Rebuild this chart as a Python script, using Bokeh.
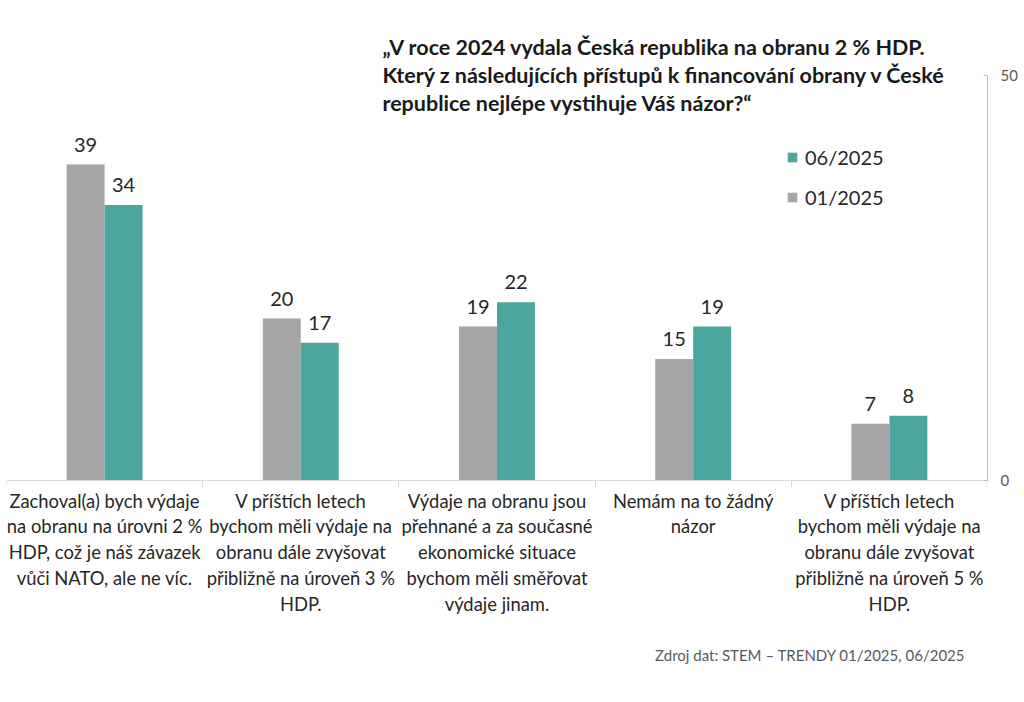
from bokeh.plotting import figure
from bokeh.models import (ColumnDataSource, FixedTicker, Legend, LegendItem, Label)
from bokeh.transform import dodge
from bokeh.core.properties import value
from bokeh.embed import file_html
from bokeh.resources import INLINE

# ---- data ----
categories = [
    "Zachoval(a) bych výdaje\nna obranu na úrovni 2 %\nHDP, což je náš závazek\nvůči NATO, ale ne víc.",
    "V příštích letech\nbychom měli výdaje na\nobranu dále zvyšovat\npřibližně na úroveň 3 %\nHDP.",
    "Výdaje na obranu jsou\npřehnané a za současné\nekonomické situace\nbychom měli směřovat\nvýdaje jinam.",
    "Nemám na to žádný\nnázor",
    "V příštích letech\nbychom měli výdaje na\nobranu dále zvyšovat\npřibližně na úroveň 5 %\nHDP.",
]
series_01_2025 = [39, 20, 19, 15, 7]
series_06_2025 = [34, 17, 22, 19, 8]
y_ticks = [0, 50]
title_text = ("„V roce 2024 vydala Česká republika na obranu 2 % HDP.\n"
              "Který z následujících přístupů k financování obrany v České\n"
              "republice nejlépe vystihuje Váš názor?“")
source_text = "Zdroj dat: STEM – TRENDY 01/2025, 06/2025"

GRAY = "#A5A5A5"
TEAL = "#4BA79E"
FONT = "Lato"

H = 696
PX_PER_UNIT = 8.1
centers = [i + 0.5 for i in range(len(categories))]
src = ColumnDataSource(dict(
    x=centers,
    v01=series_01_2025,
    v06=series_06_2025,
    t01=[str(v) for v in series_01_2025],
    t06=[str(v) for v in series_06_2025],
))

# frame spans full canvas height; value axis limited to 0..50 via bounds
y_lo = -(H - 480) / PX_PER_UNIT
y_hi = 50 + 75 / PX_PER_UNIT

p = figure(width=1020, height=H, output_backend="svg", toolbar_location=None,
           x_range=(0, len(categories)), y_range=(y_lo, y_hi),
           y_axis_location="right",
           min_border_left=6, min_border_right=30, min_border_top=0, min_border_bottom=0)
p.outline_line_color = None
p.xgrid.grid_line_color = None
p.ygrid.grid_line_color = None
p.background_fill_color = "white"
p.border_fill_color = "white"

bw = 0.1935
r01 = p.vbar(x=dodge("x", -bw / 2, range=p.x_range), top="v01", width=bw, bottom=0,
             source=src, fill_color=GRAY, line_color=None)
r06 = p.vbar(x=dodge("x", bw / 2, range=p.x_range), top="v06", width=bw, bottom=0,
             source=src, fill_color=TEAL, line_color=None)

p.text(x=dodge("x", -bw / 2, range=p.x_range), y="v01", text="t01", source=src,
       text_align="center", text_baseline="bottom", y_offset=-13,
       text_font=value(FONT), text_font_size="20px", text_color="#262626")
p.text(x=dodge("x", bw / 2, range=p.x_range), y="v06", text="t06", source=src,
       text_align="center", text_baseline="bottom", y_offset=-13,
       text_font=value(FONT), text_font_size="20px", text_color="#262626")

# x axis at value 0: category labels at centers, separators as minor ticks
xa = p.xaxis[0]
xa.fixed_location = 0
xa.ticker = FixedTicker(ticks=centers, minor_ticks=list(range(len(categories) + 1)))
xa.major_label_overrides = {c: lab for c, lab in zip(centers, categories)}
xa.major_tick_in = 0
xa.major_tick_out = 0
xa.minor_tick_in = 0
xa.minor_tick_out = 7
xa.minor_tick_line_color = "#D9D9D9"
xa.axis_line_color = "#D9D9D9"
xa.major_label_text_font = FONT
xa.major_label_text_font_size = "18.4px"
xa.major_label_text_color = "#262626"
xa.major_label_text_line_height = 1.18
xa.major_label_standoff = 2

ya = p.yaxis[0]
ya.ticker = FixedTicker(ticks=y_ticks)
ya.bounds = (0, 50)
ya.minor_tick_line_color = None
ya.major_tick_in = 4
ya.major_tick_out = 0
ya.major_tick_line_color = "#BFBFBF"
ya.axis_line_color = "#BFBFBF"
ya.major_label_text_font = FONT
ya.major_label_text_font_size = "15px"
ya.major_label_text_color = "#595959"
ya.major_label_standoff = 13

legend = Legend(items=[LegendItem(label="06/2025", renderers=[r06]),
                       LegendItem(label="01/2025", renderers=[r01])],
                location=(780, H - 209), padding=0, margin=0, spacing=16,
                glyph_width=12, glyph_height=12, label_height=22, label_standoff=7,
                label_text_font=FONT, label_text_font_size="20px",
                label_text_color="#262626",
                border_line_color=None, background_fill_alpha=0)
p.add_layout(legend)

title = Label(x=1.916, y=55.1, text=title_text, text_align="left", text_baseline="top",
              text_font=FONT, text_font_style="bold", text_font_size="21.5px",
              text_color="#1a1a1a", text_line_height=1.068)
p.add_layout(title)

src_label = Label(x=4.888, y=-21.6, text=source_text, text_align="right",
                  text_baseline="middle", text_font=FONT, text_font_size="15px",
                  text_color="#595959")
p.add_layout(src_label)

open("out.html", "w").write(file_html(p, INLINE))
